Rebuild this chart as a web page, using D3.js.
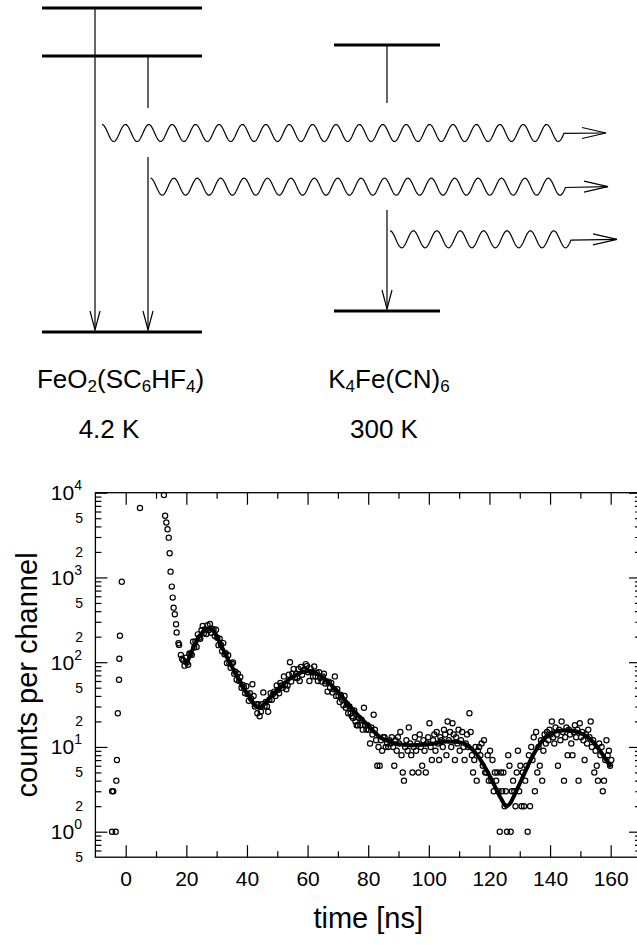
<!DOCTYPE html>
<html lang="en">
<head>
<meta charset="UTF-8">
<title>Time spectrum: FeO2(SC6HF4) and K4Fe(CN)6</title>
<script src="https://d3js.org/d3.v7.min.js"></script>
<style>
  body { margin: 0; background: #fff; }
  svg { display: block; font-family: "Liberation Sans", Arial, Helvetica, sans-serif; }
  .tick line { stroke: #000; stroke-width: 1.2; }
  .dot { fill: none; stroke: #000; stroke-width: 1.2; }
  .fit { fill: none; stroke: #000; stroke-width: 4; stroke-linejoin: round; }
  .level { stroke: #000; stroke-width: 3; }
  .thin { stroke: #000; stroke-width: 1.2; fill: none; }
</style>
</head>
<body>
<div id="chart"></div>
<script>
// ---- data ----

// isolated points before the main decay (time in ns, counts)
const earlyTimes  = [-4.5, -3.3, -4.5, -4.1, -3.1, -2.9, -2.6, -2.2, -2.1, -1.9, -1.3, 4.7, 12.6,
                     13.0, 13.4, 13.8, 14.2, 14.5, 14.8, 15.2, 15.5, 15.8, 16.2, 16.6, 16.8, 17.4, 17.6, 18.2, 18.6];
const earlyCounts = [1, 1, 3, 3, 4, 7, 25, 62, 110, 205, 890, 6600, 9400,
                     5350, 4450, 3700, 2950, 1930, 1170, 780, 578, 440, 368, 280, 224, 167, 160, 122, 110];

// regular channels from 19.0 ns, 0.4 ns wide
const chanStart = 19.0;
const chanWidth = 0.4;
const counts = [
  105,91,113,99,93,127,125,122,174,149,176,151,213,194,189,238,268,219,245,215,273,238,282,223,247,
  244,204,242,194,159,189,161,135,168,124,128,98,121,98,86,96,99,73,77,62,73,60,67,50,54,
  51,43,52,42,35,43,37,55,40,30,32,25,32,23,26,32,44,30,34,30,26,36,43,36,42,
  45,40,53,47,43,57,53,50,68,55,48,53,71,100,59,73,83,66,73,65,83,60,88,71,80,
  82,95,90,76,60,84,76,68,89,68,75,60,76,65,59,68,73,56,59,45,59,50,57,44,48,
  68,40,48,40,34,41,36,31,40,29,32,25,30,25,23,22,27,20,18,18,22,18,21,16,29,
  18,16,18,16,11,17,14,24,16,12,6,10,6,12,9,13,13,10,11,10,12,11,13,10,6,
  12,9,13,11,15,8,5,4,10,12,9,17,11,8,5,10,13,9,11,5,14,10,6,12,9,
  5,11,13,19,10,7,12,14,9,15,11,7,13,12,10,16,14,8,20,12,15,10,19,14,7,
  13,11,16,9,12,15,10,7,11,14,10,25,15,8,5,7,10,4,9,10,8,11,6,12,5,
  5,8,4,9,4,7,3,5,4,5,3,1,5,3,5,2,3,1,8,6,1,3,4,3,2,
  5,9,3,6,2,5,2,4,6,1,8,2,10,7,13,3,15,5,10,6,12,4,9,14,11,
  15,12,16,14,20,13,11,17,14,6,16,12,20,15,4,13,17,8,16,14,11,8,15,18,13,
  16,4,19,13,15,12,7,14,11,16,13,20,10,12,5,9,6,4,11,8,10,3,4,7,12,8,9,6,7
];

// fitted curve
const fitTimes  = [19,20,21,22,23,24,25,26,27,28,29,30,31,32,33,34,35,36,37,38,39,40,41,42,43,44,45,46,47,48,
                   50,52,54,56,58,60,62,64,66,68,70,72,74,76,78,80,82,84,86,88,90,94,98,102,106,110,112,114,116,118,
                   120,122,124,125.5,127,128,130,132,134,136,138,140,142,144,146,148,150,152,154,156,158,160];
const fitCounts = [100,98,115,140,168,195,220,238,248,247,232,205,172,145,122,104,89,77,66,57,49,43,38,33,30,29,30,33,36,40,
                   47,55,63,70,76,78,76,70,62,53,45,37,30,25,21,18,15,13,12,11.2,10.8,10.5,10.6,11,11.6,11.4,10.8,9.6,8,6.2,
                   4.6,3.3,2.4,2.0,2.2,2.6,3.7,5.3,7.5,10,12.5,14.2,15.2,15.6,15.7,15.4,14.6,13.4,11.6,9.5,7.5,5.8];

// ticks
const xMajor = [0, 20, 40, 60, 80, 100, 120, 140, 160];
const xMinor = [10, 30, 50, 70, 90, 110, 130, 150];
const yMajor = [1, 10, 100, 1000, 10000];
const yMajorExp = ["0", "1", "2", "3", "4"];
const yMinorLabelValues = [0.5, 2, 5, 20, 50, 200, 500, 2000, 5000];
const yMinorLabels = ["5", "2", "5", "2", "5", "2", "5", "2", "5"];

// ---- chart ----
const W = 637, H = 945;
const plot = { left: 95.4, right: 641, top: 492.7, bottom: 857.2 };

const svg = d3.select("#chart").append("svg")
    .attr("width", W)
    .attr("height", H);

svg.append("rect").attr("width", W).attr("height", H).attr("fill", "#fff");

const x = d3.scaleLinear().domain([-10, 170]).range([plot.left, plot.right]);
const y = d3.scaleLog().domain([0.5, 1e4]).range([plot.bottom, plot.top]);

const yMinor = [];
[0.1, 1, 10, 100, 1000].forEach(dec => {
    for (let k = 2; k <= 9; k++) {
        const v = dec * k;
        if (v > 0.5 && v < 1e4) yMinor.push(v);
    }
});

function styleAxis(g) {
    g.select(".domain").remove();
    g.selectAll("text")
        .style("font-size", "21px")
        .style("font-family", '"Liberation Sans", Arial, sans-serif')
        .attr("fill", "#000");
}

// bottom + top axes
svg.append("g")
    .attr("transform", `translate(0,${plot.bottom})`)
    .call(d3.axisBottom(x).tickValues(xMajor).tickSizeInner(-12).tickSizeOuter(0).tickPadding(14).tickFormat(d3.format("d")))
    .call(styleAxis);
svg.append("g")
    .attr("transform", `translate(0,${plot.bottom})`)
    .call(d3.axisBottom(x).tickValues(xMinor).tickSizeInner(-6).tickSizeOuter(0).tickFormat(""))
    .call(styleAxis);
svg.append("g")
    .attr("transform", `translate(0,${plot.top})`)
    .call(d3.axisTop(x).tickValues(xMajor).tickSizeInner(-12).tickSizeOuter(0).tickFormat(""))
    .call(styleAxis);
svg.append("g")
    .attr("transform", `translate(0,${plot.top})`)
    .call(d3.axisTop(x).tickValues(xMinor).tickSizeInner(-6).tickSizeOuter(0).tickFormat(""))
    .call(styleAxis);

// left + right axes
[[d3.axisLeft, plot.left], [d3.axisRight, plot.right]].forEach(([ax, pos]) => {
    svg.append("g")
        .attr("transform", `translate(${pos},0)`)
        .call(ax(y).tickValues(yMajor).tickSizeInner(-12).tickSizeOuter(0).tickFormat(""))
        .call(styleAxis);
    svg.append("g")
        .attr("transform", `translate(${pos},0)`)
        .call(ax(y).tickValues(yMinor).tickSizeInner(-6).tickSizeOuter(0).tickFormat(""))
        .call(styleAxis);
});

// y labels: powers of ten
const majLab = svg.append("g").selectAll("text")
    .data(yMajor)
    .join("text")
    .attr("x", 82)
    .attr("y", d => y(d) + 7.5)
    .attr("text-anchor", "end")
    .attr("fill", "#000")
    .attr("font-size", 21);
majLab.append("tspan").text("10");
majLab.append("tspan")
    .attr("dy", -10)
    .attr("font-size", 14)
    .text((d, i) => yMajorExp[i]);

svg.append("g").selectAll("text")
    .data(yMinorLabelValues)
    .join("text")
    .attr("x", 83)
    .attr("y", d => y(d) + 5)
    .attr("text-anchor", "end")
    .attr("font-size", 14)
    .text((d, i) => yMinorLabels[i]);

// scatter
const points = earlyTimes.map((t, i) => ({ t, v: earlyCounts[i] }))
    .concat(counts.map((v, i) => ({ t: chanStart + i * chanWidth, v })));

svg.append("g").selectAll("circle")
    .data(points)
    .join("circle")
    .attr("class", "dot")
    .attr("cx", d => x(d.t))
    .attr("cy", d => y(d.v))
    .attr("r", 2.6);

// fit
const fitLine = d3.line()
    .x(d => x(d[0]))
    .y(d => y(d[1]))
    .curve(d3.curveMonotoneX);
svg.append("path")
    .attr("class", "fit")
    .attr("d", fitLine(fitTimes.map((t, i) => [t, fitCounts[i]])));

// frame
svg.append("rect")
    .attr("x", plot.left).attr("y", plot.top)
    .attr("width", plot.right - plot.left).attr("height", plot.bottom - plot.top)
    .attr("fill", "none").attr("stroke", "#000").attr("stroke-width", 1.3);

// axis titles
svg.append("text")
    .attr("x", (plot.left + plot.right) / 2)
    .attr("y", 928)
    .attr("text-anchor", "middle")
    .attr("font-size", 29)
    .text("time [ns]");
svg.append("text")
    .attr("transform", `translate(37,${(plot.top + plot.bottom) / 2}) rotate(-90)`)
    .attr("text-anchor", "middle")
    .attr("font-size", 29)
    .text("counts per channel");

// ---- level scheme ----
const dg = svg.append("g");

const levelSets = [
    { x1: 42, x2: 202, ys: [8, 56, 332] },
    { x1: 334, x2: 440, ys: [45, 311] }
];
levelSets.forEach(s => {
    s.ys.forEach(yy => {
        dg.append("line").attr("class", "level")
            .attr("x1", s.x1).attr("x2", s.x2).attr("y1", yy).attr("y2", yy);
    });
});

const drops = [
    { x: 95, segs: [[8, 330]] },
    { x: 148, segs: [[56, 108], [157, 330]] },
    { x: 387, segs: [[45, 103], [210, 309]] }
];
drops.forEach(d => {
    d.segs.forEach(s => {
        dg.append("line").attr("class", "thin")
            .attr("x1", d.x).attr("x2", d.x).attr("y1", s[0]).attr("y2", s[1]);
    });
    const tip = d.segs[d.segs.length - 1][1];
    dg.append("path").attr("class", "thin")
        .attr("d", `M${d.x - 5},${tip - 19} L${d.x},${tip} L${d.x + 5},${tip - 19}`);
});

const period = 23.4, amp = 8.5;
const waves = [
    { x0: 102, y: 133, n: 19.75, tip: 606 },
    { x0: 150.5, y: 186.7, n: 17.75, tip: 608 },
    { x0: 390, y: 239.3, n: 7.75, tip: 617 }
];
const waveLine = d3.line();
waves.forEach(w => {
    const len = w.n * period;
    const pts = d3.range(0, len + 0.01, 0.5)
        .map(s => [w.x0 + s, w.y - amp * Math.cos(2 * Math.PI * s / period)]);
    pts.push([w.tip, w.y]);
    dg.append("path").attr("class", "thin").attr("d", waveLine(pts));
    dg.append("path").attr("class", "thin")
        .attr("d", `M${w.tip - 24},${w.y - 5.5} L${w.tip},${w.y} L${w.tip - 24},${w.y + 5.5}`);
});

// compound labels with subscripts
function formula(xc, yb, parts) {
    const t = dg.append("text")
        .attr("x", xc).attr("y", yb)
        .attr("text-anchor", "middle")
        .attr("font-size", 26);
    let sub = false;
    parts.forEach(p => {
        const isSub = /^\d$/.test(p);
        const ts = t.append("tspan").text(p);
        if (isSub && !sub) ts.attr("dy", 4).attr("font-size", 17);
        else if (!isSub && sub) ts.attr("dy", -4);
        else if (isSub) ts.attr("font-size", 17);
        sub = isSub;
    });
}
formula(120.5, 388, ["FeO", "2", "(SC", "6", "HF", "4", ")"]);
formula(389, 388, ["K", "4", "Fe(CN)", "6"]);

dg.append("text").attr("x", 109).attr("y", 438).attr("text-anchor", "middle").attr("font-size", 26).text("4.2 K");
dg.append("text").attr("x", 384).attr("y", 438).attr("text-anchor", "middle").attr("font-size", 26).text("300 K");
</script>
</body>
</html>
